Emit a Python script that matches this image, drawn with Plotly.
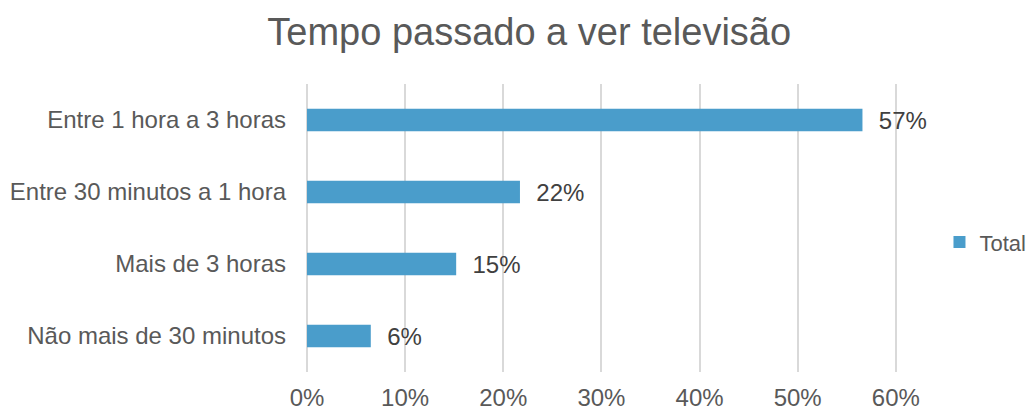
import plotly.graph_objects as go

categories = ["Entre 1 hora a 3 horas", "Entre 30 minutos a 1 hora", "Mais de 3 horas", "Não mais de 30 minutos"]
values = [0.566, 0.217, 0.152, 0.065]
labels = ["57%", "22%", "15%", "6%"]
tick_vals = [0, 0.1, 0.2, 0.3, 0.4, 0.5, 0.6]
tick_text = ["0%", "10%", "20%", "30%", "40%", "50%", "60%"]

FONT = "Liberation Sans, Arial, sans-serif"

fig = go.Figure()
fig.add_trace(go.Bar(
    y=categories, x=values, orientation="h", name="Total",
    marker=dict(color="#4A9DCB", line=dict(width=0)),
    width=0.31,
    text=["  " + t for t in labels], textposition="outside",
    constraintext="none",
    textfont=dict(family=FONT, size=24, color="#404040"),
    cliponaxis=False,
))

fig.update_layout(
    width=1026, height=402,
    paper_bgcolor="white", plot_bgcolor="white",
    margin=dict(l=299, r=137, t=76, b=38, autoexpand=False),
    font=dict(family=FONT, color="#595959", size=24),
    title=dict(text="Tempo passado a ver televisão", x=0.508, xanchor="center",
               xref="container", y=0.94, yref="container", yanchor="middle",
               font=dict(family=FONT, size=38, color="#595959")),
    showlegend=True,
    legend=dict(x=1.072, xanchor="left", y=0.451, yanchor="middle",
                font=dict(family=FONT, size=22, color="#595959"),
                itemwidth=30, tracegroupgap=0),
    bargap=0.69,
)

fig.update_xaxes(range=[0, 0.6012], tickvals=tick_vals, ticktext=tick_text,
                 showgrid=True, gridcolor="#D9D9D9", gridwidth=2,
                 zeroline=True, zerolinecolor="#D9D9D9", zerolinewidth=2,
                 showline=False, ticks="", automargin=False,
                 ticklabelstandoff=9,
                 tickfont=dict(family=FONT, size=24, color="#595959"))
fig.update_yaxes(autorange="reversed", showgrid=False, showline=False, ticks="",
                 automargin=False, ticklabelstandoff=20,
                 tickfont=dict(family=FONT, size=24, color="#595959"))

fig.write_html("out.html")
